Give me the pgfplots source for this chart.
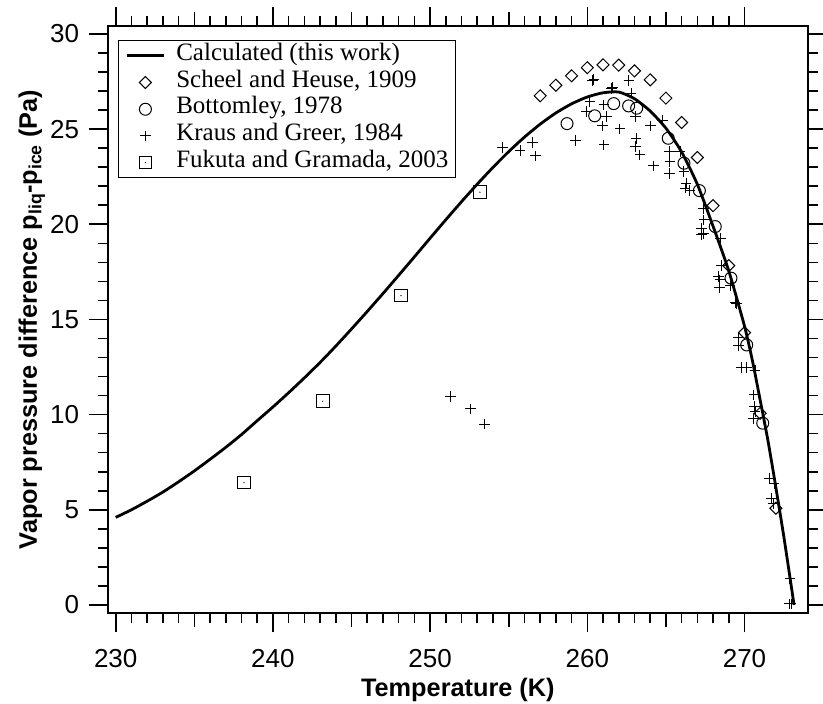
\documentclass[border=0pt]{standalone}
\usepackage{fontspec}
\setmainfont{Liberation Sans}
\newfontfamily\legfont{Liberation Serif}
\usepackage{pgfplots}
\pgfplotsset{compat=1.18}
\pgfdeclareplotmark{sqdot}{%
  \pgfpathrectangle{\pgfpoint{-\pgfplotmarksize}{-\pgfplotmarksize}}{\pgfpoint{2\pgfplotmarksize}{2\pgfplotmarksize}}%
  \pgfusepathqstroke
  \pgfpathcircle{\pgfpointorigin}{0.7pt}%
  \pgfusepathqfill}
\begin{document}
\begin{tikzpicture}
\begin{axis}[
  scale only axis, width=700.3pt, height=587.3pt,
  xmin=229.49, xmax=274.04, ymin=-0.44, ymax=30.42,
  xtick={230,240,...,270}, ytick={0,5,...,30},
  minor x tick num=9, minor y tick num=4,
  extra x ticks={235,245,255,265}, extra x tick labels={},
  extra x tick style={major tick length=14pt},
  tick align=outside, major tick length=19pt, minor tick length=10pt,
  axis line style={line width=1.8pt},
  tick style={line width=1.6pt, black},
  minor tick style={line width=1.6pt, black},
  /pgf/number format/assume math mode=true,
  tick label style={font=\fontsize{26}{30}\selectfont},
  xticklabel style={yshift=-14pt},
  yticklabel style={xshift=-6pt},
  label style={font=\bfseries\fontsize{25.3}{30}\selectfont},
  xlabel={Temperature (K)},
  ylabel={Vapor pressure difference p\textsubscript{liq}-p\textsubscript{ice} (Pa)},
  xlabel style={at={(axis description cs:0.5,0)}, anchor=base, yshift=-83.4pt},
  ylabel style={at={(axis description cs:0,0.5)}, anchor=base, yshift=70.7pt},
  legend cell align=left,
  legend style={at={(axis description cs:0,1)}, anchor=north west, xshift=10.6pt, yshift=-14pt,
    draw=black, line width=1pt, font=\legfont\fontsize{25}{30}\selectfont,
    inner xsep=6.7pt, inner ysep=2pt, row sep=0pt, column sep=11pt,
    nodes={inner sep=0pt, text height=18pt, text depth=8.7pt}},
  legend image code/.code={\draw[mark repeat=2,mark phase=2,#1] plot coordinates {(0pt,0pt) (18.5pt,0pt) (37pt,0pt)};},
]
\addplot[black, line width=2.8pt, smooth, tension=0.4] coordinates {
(230,4.60) (231,5.00) (232,5.45) (233,5.93) (234,6.47) (235,7.04) (236,7.65) (237,8.28) (238,8.95) (239,9.68)
(240,10.40) (241,11.15) (242,11.93) (243,12.74) (244,13.60) (245,14.50) (246,15.42) (247,16.36) (248,17.32) (249,18.29)
(250,19.27) (251,20.24) (252,21.19) (253,22.11) (254,22.99) (255,23.82) (256,24.58) (257,25.26) (258,25.85) (259,26.33)
(260,26.69) (261,26.91) (262,26.95) (263,26.60) (264,25.95) (265,25.05) (266,23.80) (267,22.10) (268,19.90) (269,17.55)
(270,14.65) (270.5,12.85) (271,10.75) (271.5,8.60) (272,6.15) (272.5,3.60) (273,0.85) (273.15,0)
};
\addlegendentry{Calculated (this work)}
\addplot[black, only marks, mark=square, mark size=4.25pt, mark options={rotate=45, line width=1pt}] coordinates {
(257,26.75) (258,27.31) (259,27.80) (260,28.23) (261,28.38) (262,28.36) (263,28.06) (264,27.59)
(265,26.63) (266,25.35) (267,23.51) (268,20.98) (269,17.83) (270,14.31) (271,10.07) (272,5.08)
};
\addlegendentry{Scheel and Heuse, 1909}
\addplot[black, only marks, mark=o, mark size=6pt, mark options={line width=1pt}] coordinates {
(258.71,25.29) (260.47,25.70) (261.68,26.34) (262.63,26.22) (263.14,26.10) (265.15,24.52)
(266.15,23.21) (267.13,21.77) (268.14,19.88) (269.14,17.17) (270.14,13.66) (271.16,9.55)
};
\addlegendentry{Bottomley, 1978}
\addplot[black, only marks, mark=+, mark size=5.3pt, mark options={line width=1pt}] coordinates {
(251.31,10.95) (252.56,10.30) (253.47,9.50) (254.60,24.03) (255.72,23.87) (256.53,24.29) (256.70,23.59)
(259.25,24.40) (259.96,25.92) (260.17,26.45) (260.34,27.57) (260.42,27.62) (260.95,25.17) (261.06,26.27)
(261.06,24.17) (261.21,25.66) (261.55,27.15) (261.62,27.20) (262.08,25.01) (262.65,27.57) (262.78,26.89)
(263.08,25.66) (263.10,24.52) (263.08,24.08) (263.35,23.65) (264.03,25.17) (264.22,23.07) (264.80,25.45)
(265.22,23.82) (265.26,23.30) (265.22,22.68) (265.90,23.82) (266.15,22.77) (266.28,22.16) (266.22,21.90)
(266.53,21.77) (267.38,20.81) (267.42,20.23) (267.28,19.80) (267.28,19.44) (267.40,19.50) (268.49,19.27)
(268.55,17.83) (268.33,17.25) (268.44,17.08) (268.40,16.69) (269.08,16.76) (269.40,15.89) (269.50,15.85)
(269.61,14.07) (269.61,13.63) (269.82,12.49) (270.14,12.49) (270.67,12.31) (270.60,11.04) (270.63,10.42)
(270.67,10.16) (270.56,9.81) (271.58,6.66) (271.88,6.36) (271.73,5.61) (271.83,5.34) (272.89,1.40)
(272.85,0.05) (272.97,0.05)
};
\addlegendentry{Kraus and Greer, 1984}
\addplot[black, only marks, mark=sqdot, mark size=6.3pt, mark options={line width=1pt}] coordinates {
(238.16,6.43) (243.17,10.70) (248.15,16.25) (253.17,21.69)
};
\addlegendentry{Fukuta and Gramada, 2003}
\coordinate (sw) at (rel axis cs:0,0);
\coordinate (ne) at (rel axis cs:1,1);
\end{axis}
\pgfresetboundingbox
\useasboundingbox ([shift={(-107.7pt,-90.7pt)}]sw) rectangle ([shift={(15pt,26pt)}]ne);
\end{tikzpicture}
\end{document}
